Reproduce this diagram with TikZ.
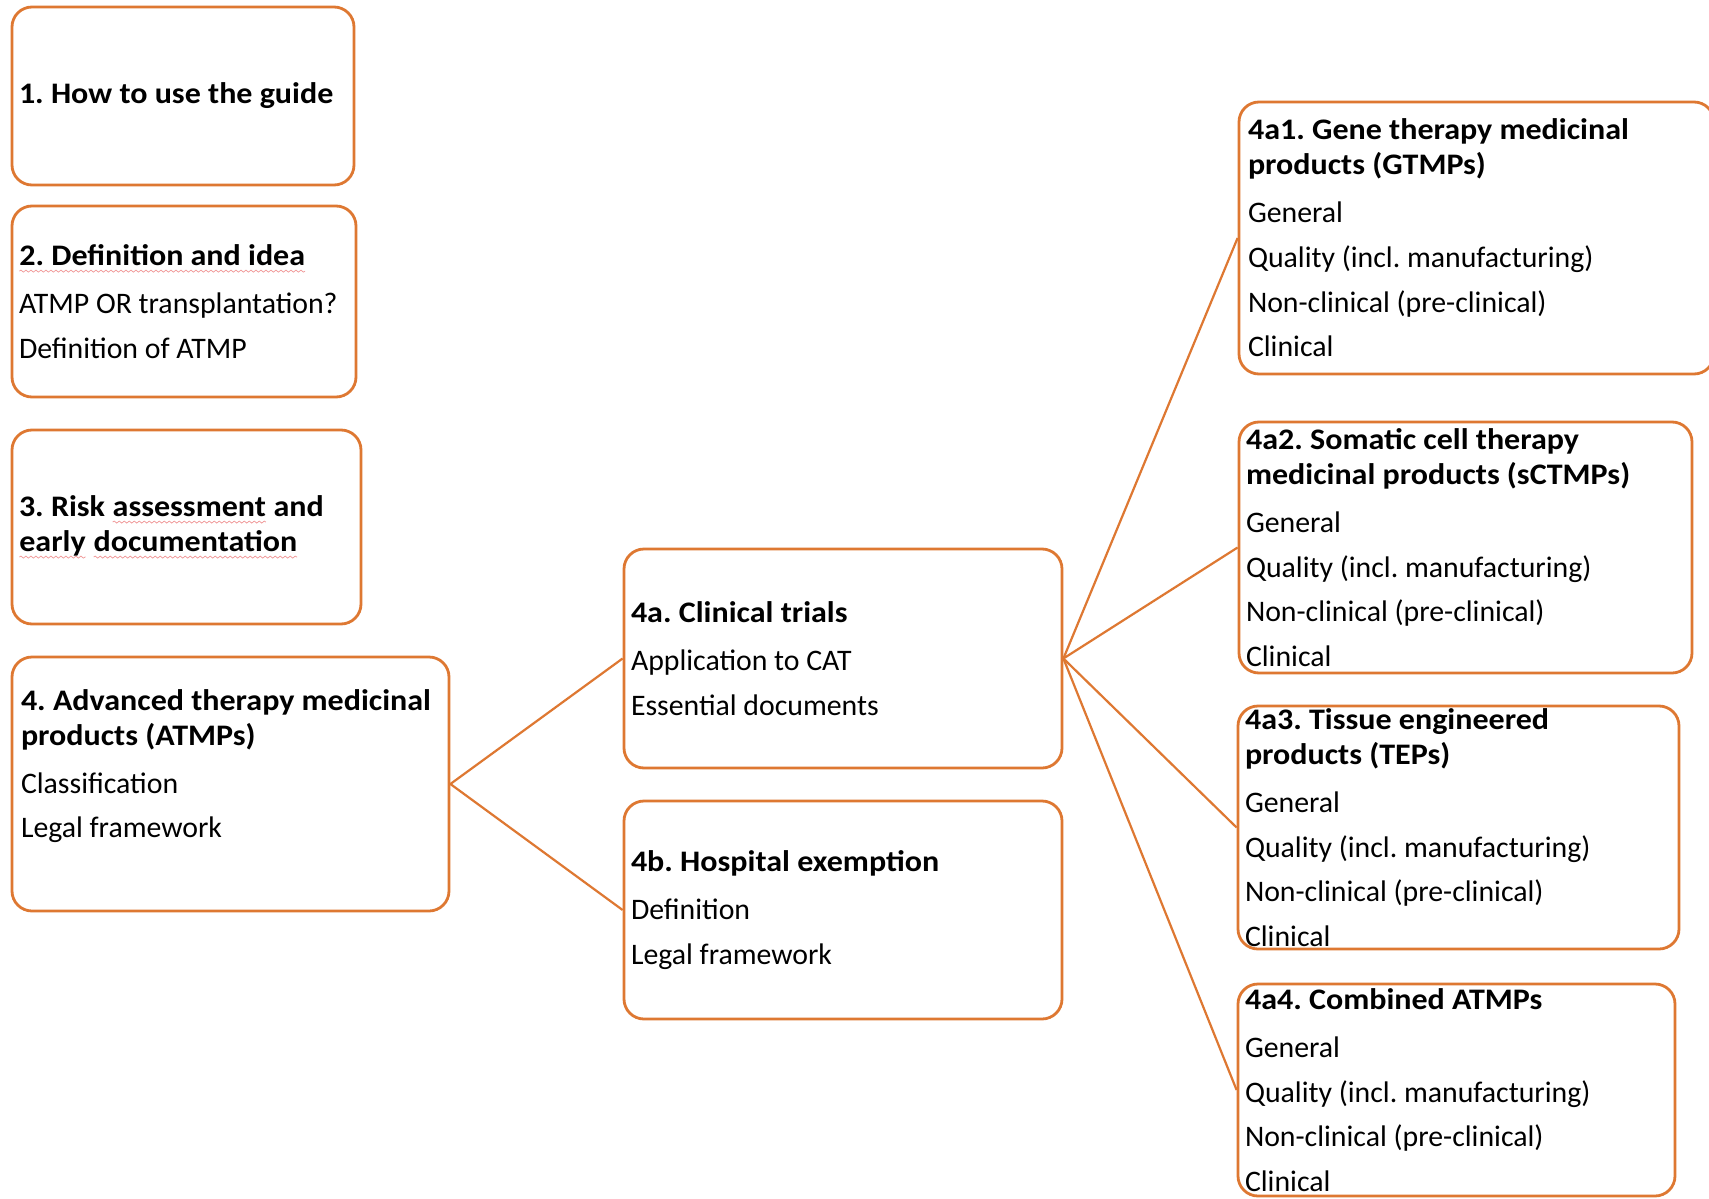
\documentclass[tikz,border=0pt]{standalone}
\usepackage{fontspec}
\setmainfont{Carlito}[BoldFeatures={FakeStretch=1.075}]
\usetikzlibrary{decorations.pathmorphing}
\definecolor{acc}{RGB}{222,120,50}
\definecolor{spellc}{RGB}{240,150,150}
\newcommand\spell[1]{\tikz[baseline=(w.base),x=1pt,y=1pt]{\node[inner sep=0pt,outer sep=0pt,anchor=base west] (w) at (0,0) {#1};
  \draw[spellc, line width=0.35pt, decorate, decoration={snake, amplitude=0.5pt, segment length=2.5pt}] ([yshift=-2.8pt]w.base west) -- ([yshift=-2.8pt]w.base east);}}
\newcommand\ttl[1]{\textbf{#1}}
\begin{document}
\frenchspacing
\begin{tikzpicture}[x=0.5pt,y=-0.5pt,
  box/.style={draw=acc, line width=1.4pt, rounded corners=10pt, inner sep=0pt},
  txt/.style={anchor=west, align=left, inner sep=0pt, xshift=4pt,
    font=\fontsize{14.9pt}{17.5pt}\selectfont\frenchspacing},
  conn/.style={draw=acc, line width=1.1pt}]
\clip (0,0) rectangle (1709,1199);
\fill[white] (0,0) rectangle (1709,1199);

\node[box, minimum width=171pt, minimum height=89pt] (b1) at (183,96) {};
\node[txt] (t1) at (b1.west) {\ttl{1. How to use the guide}};

\node[box, minimum width=172pt, minimum height=95.5pt] (b2) at (184,301.5) {};
\node[txt] (t2) at (b2.west) {\ttl{\spell{2. Definition and idea}}\\[6.5pt]
  ATMP OR transplantation?\\[4.85pt]
  Definition of ATMP};

\node[box, minimum width=174.5pt, minimum height=97pt] (b3) at (186.5,527) {};
\node[txt] (t3) at (b3.west) {\ttl{3. Risk \spell{assessment} and}\\
  \ttl{\spell{early} \spell{documentation}}};

\node[box, minimum width=218.5pt, minimum height=127pt] (b4) at (230.5,784) {};
\node[txt, yshift=9pt, xshift=1pt] (t4) at (b4.west) {\ttl{4. Advanced therapy medicinal}\\
  \ttl{products (ATMPs)}\\[6.5pt]
  Classification\\[4.85pt]
  Legal framework};

\node[box, minimum width=219pt, minimum height=109.5pt] (b4a) at (843,658.5) {};
\node[txt] (t4a) at (b4a.west) {\ttl{4a. Clinical trials}\\[6.5pt]
  Application to CAT\\[4.85pt]
  Essential documents};

\node[box, minimum width=219pt, minimum height=109pt] (b4b) at (843,910) {};
\node[txt] (t4b) at (b4b.west) {\ttl{4b. Hospital exemption}\\[6.5pt]
  Definition\\[4.85pt]
  Legal framework};

\node[box, minimum width=237.5pt, minimum height=136pt] (b4a1) at (1476.5,238) {};
\node[txt, xshift=1pt] (t4a1) at (b4a1.west) {\ttl{4a1. Gene therapy medicinal}\\
  \ttl{products (GTMPs)}\\[6.5pt]
  General\\[4.85pt]
  Quality (incl. manufacturing)\\[4.85pt]
  Non-clinical (pre-clinical)\\[4.85pt]
  Clinical};

\node[box, minimum width=226.5pt, minimum height=125.5pt] (b4a2) at (1465.5,547.5) {};
\node[txt] (t4a2) at (b4a2.west) {\ttl{4a2. Somatic cell therapy}\\
  \ttl{medicinal products (sCTMPs)}\\[6.5pt]
  General\\[4.85pt]
  Quality (incl. manufacturing)\\[4.85pt]
  Non-clinical (pre-clinical)\\[4.85pt]
  Clinical};

\node[box, minimum width=220.5pt, minimum height=121.5pt] (b4a3) at (1458.5,827.5) {};
\node[txt] (t4a3) at (b4a3.west) {\ttl{4a3. Tissue engineered}\\
  \ttl{products (TEPs)}\\[6.5pt]
  General\\[4.85pt]
  Quality (incl. manufacturing)\\[4.85pt]
  Non-clinical (pre-clinical)\\[4.85pt]
  Clinical};

\node[box, minimum width=218.5pt, minimum height=106pt] (b4a4) at (1456.5,1090) {};
\node[txt] (t4a4) at (b4a4.west) {\ttl{4a4. Combined ATMPs}\\[6.5pt]
  General\\[4.85pt]
  Quality (incl. manufacturing)\\[4.85pt]
  Non-clinical (pre-clinical)\\[4.85pt]
  Clinical};

\draw[conn] (b4.east) -- (b4a.west);
\draw[conn] (b4.east) -- (b4b.west);
\draw[conn] (b4a.east) -- (b4a1.west);
\draw[conn] (b4a.east) -- (b4a2.west);
\draw[conn] (b4a.east) -- (b4a3.west);
\draw[conn] (b4a.east) -- (b4a4.west);
\end{tikzpicture}
\end{document}
